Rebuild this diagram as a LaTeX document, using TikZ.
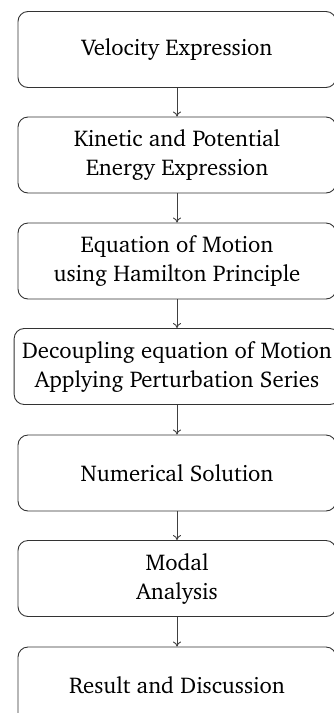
\documentclass[tikz,border=0pt]{standalone}
\usepackage[T1]{fontenc}
\usepackage{charter}
\usetikzlibrary{arrows.meta}
\begin{document}
\begin{tikzpicture}[x=1pt,y=-1pt,
  box/.style={draw=black!80, line width=0.9pt, rounded corners=10pt, minimum width=318pt, minimum height=76pt, align=center, inner xsep=8pt, font=\fontsize{22.8}{29}\selectfont},
  conn/.style={draw=black!75, line width=0.9pt, -{To[length=5pt,width=8pt]}}]
\useasboundingbox (0,0) rectangle (334,713);
\node[box] (b1) at (177,49.5) {Velocity Expression};
\node[box] (b2) at (177,155) {Kinetic and Potential\\Energy Expression};
\node[box] (b3) at (177,261) {Equation of Motion\\using Hamilton Principle};
\node[box] (b4) at (177,366.5) {Decoupling equation of Motion\\Applying Perturbation Series};
\node[box] (b5) at (177,473) {Numerical Solution};
\node[box] (b6) at (177,578.5) {Modal\\Analysis};
\node[box] (b7) at (177,685) {Result and Discussion};
\draw[conn] (b1) -- (b2);
\draw[conn] (b2) -- (b3);
\draw[conn] (b3) -- (b4);
\draw[conn] (b4) -- (b5);
\draw[conn] (b5) -- (b6);
\draw[conn] (b6) -- (b7);
\end{tikzpicture}
\end{document}
